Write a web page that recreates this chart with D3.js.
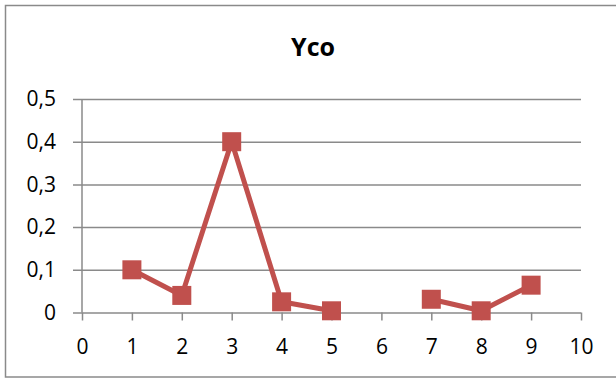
<!DOCTYPE html>
<html>
<head>
<meta charset="utf-8">
<script src="https://cdn.jsdelivr.net/npm/d3@7"></script>
<style>
  html, body { margin: 0; padding: 0; background: #fff; }
  svg { display: block; }
  text { font-family: "Open Sans", Lato, sans-serif; fill: #000; }
</style>
</head>
<body>
<svg id="chart" width="616" height="379"></svg>
<script>
// Series: Yco by position (no reading at 6)
const positions = [1, 2, 3, 4, 5, 6, 7, 8, 9];
const ycoValues = [0.1, 0.04, 0.4, 0.025, 0.004, null, 0.031, 0.004, 0.064];
const xTicks = [0, 1, 2, 3, 4, 5, 6, 7, 8, 9, 10];
const yTicks = [0, 0.1, 0.2, 0.3, 0.4, 0.5];
const title = "Yco";

const svg = d3.select("#chart");
const gridColor = "#8a8a8a";
const seriesColor = "#C0504D";

// Outer chart frame (right edge runs past the view)
svg.append("rect")
  .attr("x", 5.5).attr("y", 5.5)
  .attr("width", 640).attr("height", 371.5)
  .attr("fill", "#fff")
  .attr("stroke", "#8a8a8a").attr("stroke-width", 1.5);

const x = d3.scaleLinear().domain([0, 10]).range([82, 581]);
const y = d3.scaleLinear().domain([0, 0.5]).range([312.5, 99]);

// Title
svg.append("text")
  .attr("x", 313).attr("y", 56)
  .attr("text-anchor", "middle")
  .style("font-size", "25px").style("font-weight", "bold")
  .text(title);

// Horizontal gridlines with left tick labels
const yAxis = d3.axisLeft(y)
  .tickValues(yTicks)
  .tickSize(-(581 - 82))
  .tickPadding(26)
  .tickFormat(d => d === 0 ? "0" : d3.format(".1f")(d).replace(".", ","));
const gy = svg.append("g").attr("transform", "translate(82,0)").call(yAxis);
gy.select(".domain").remove();
gy.selectAll(".tick line")
  .attr("x1", -9)
  .attr("stroke", gridColor).attr("stroke-width", 1.5);
gy.selectAll(".tick text").style("font-size", "21px").attr("fill", "#000");

// Vertical axis line
svg.append("line")
  .attr("x1", x(0)).attr("x2", x(0))
  .attr("y1", y(0.5)).attr("y2", y(0))
  .attr("stroke", gridColor).attr("stroke-width", 1.5);

// Bottom axis with outward ticks
const xAxis = d3.axisBottom(x)
  .tickValues(xTicks)
  .tickSize(8)
  .tickPadding(19)
  .tickFormat(d3.format("d"));
const gx = svg.append("g").attr("transform", `translate(0,${y(0)})`).call(xAxis);
gx.select(".domain").remove();
gx.selectAll(".tick line").attr("stroke", gridColor).attr("stroke-width", 1.5);
gx.selectAll(".tick text").style("font-size", "21px").attr("fill", "#000");

// Series line, broken where there is no value
const pts = positions.map((p, i) => ({ p, v: ycoValues[i] }));
const line = d3.line()
  .defined(d => d.v !== null)
  .x(d => x(d.p))
  .y(d => y(d.v));
svg.append("path")
  .datum(pts)
  .attr("d", line)
  .attr("fill", "none")
  .attr("stroke", seriesColor)
  .attr("stroke-width", 5)
  .attr("stroke-linejoin", "round");

// Square markers
const m = 19;
svg.selectAll("rect.marker")
  .data(pts.filter(d => d.v !== null))
  .join("rect")
  .attr("class", "marker")
  .attr("x", d => x(d.p) - m / 2)
  .attr("y", d => y(d.v) - m / 2)
  .attr("width", m).attr("height", m)
  .attr("fill", seriesColor);
</script>
</body>
</html>
